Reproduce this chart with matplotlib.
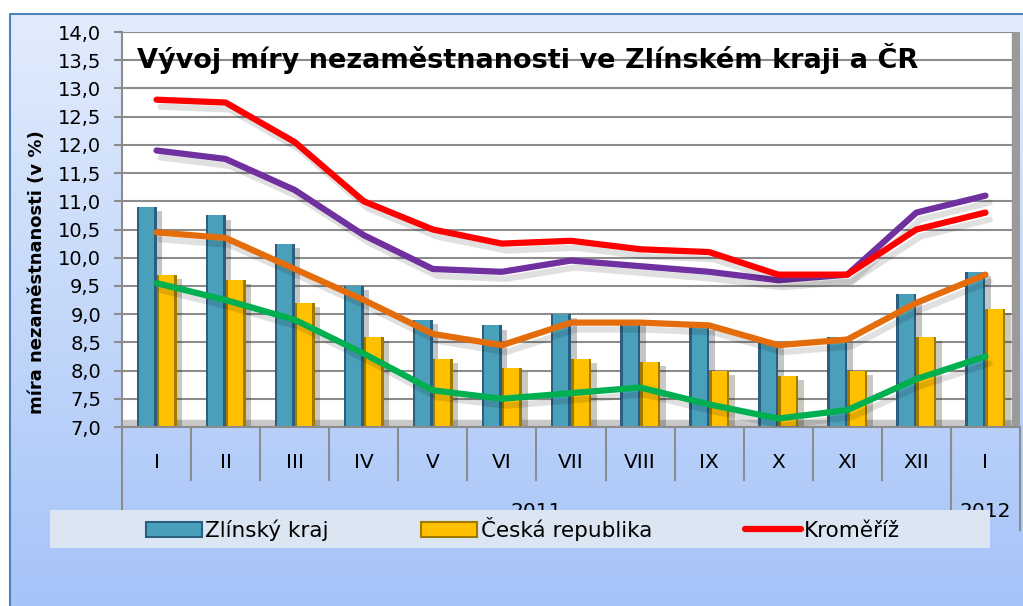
import numpy as np
import matplotlib.pyplot as plt
import matplotlib.patheffects as pe
from matplotlib.patches import Rectangle, Patch
from matplotlib.lines import Line2D
from matplotlib.colors import LinearSegmentedColormap
import matplotlib.transforms as mtransforms

plt.rcParams['font.family'] = ['DejaVu Sans']

# --- data ---
mesice = ['I', 'II', 'III', 'IV', 'V', 'VI', 'VII', 'VIII', 'IX', 'X', 'XI', 'XII', 'I']
roky = ['2011', '2012']
roky_pocet = [12, 1]
zlinsky_kraj = [10.9, 10.75, 10.25, 9.5, 8.9, 8.8, 9.0, 8.9, 8.8, 8.5, 8.6, 9.35, 9.75]
ceska_republika = [9.7, 9.6, 9.2, 8.6, 8.2, 8.05, 8.2, 8.15, 8.0, 7.9, 8.0, 8.6, 9.1]
kromeriz = [12.8, 12.75, 12.05, 11.0, 10.5, 10.25, 10.3, 10.15, 10.1, 9.7, 9.7, 10.5, 10.8]
fialova = [11.9, 11.75, 11.2, 10.4, 9.8, 9.75, 9.95, 9.85, 9.75, 9.6, 9.7, 10.8, 11.1]
oranzova = [10.45, 10.35, 9.8, 9.25, 8.65, 8.45, 8.85, 8.85, 8.8, 8.45, 8.55, 9.2, 9.7]
zelena = [9.55, 9.25, 8.9, 8.3, 7.65, 7.5, 7.6, 7.7, 7.4, 7.15, 7.3, 7.85, 8.25]

W, H = 1023, 606
fig = plt.figure(figsize=(W / 100, H / 100), dpi=100)

# background of the chart (gradient + frame)
bg = fig.add_axes([0, 0, 1, 1])
bg.set_xlim(0, W)
bg.set_ylim(H, 0)
bg.axis('off')
cmap = LinearSegmentedColormap.from_list('bg', ['#e2ecfc', '#c4d8fa', '#a6c3f8'])
grad = np.linspace(0, 1, 256).reshape(-1, 1)
bg.imshow(grad, cmap=cmap, extent=[10, W, H, 14], aspect='auto')
bg.plot([10, 10, W], [H, 14, 14], color='#4f81bd', lw=1.5)

# plot area
ax = fig.add_axes([122 / W, 1 - 427 / H, 898 / W, 395 / H])
ax.set_facecolor('white')
ax.set_xlim(-0.5, 12.5)
ax.set_ylim(7, 14)
ax.set_axisbelow(True)
ax.yaxis.grid(True, color='#8c8c8c', lw=1.5)
ax.set_yticks(np.arange(7, 14.01, 0.5))
ax.set_yticklabels([f'{v:.1f}'.replace('.', ',') for v in np.arange(7, 14.01, 0.5)])
ax.tick_params(axis='y', labelsize=14, length=6, width=1.5, color='#8c8c8c', pad=9)
ax.set_xticks([])
for s in ['top', 'right']:
    ax.spines[s].set_visible(False)
for s in ['left', 'bottom']:
    ax.spines[s].set_color('#8c8c8c')
    ax.spines[s].set_linewidth(1.5)

# 3D-ish floor and right wall
ax.axhspan(7, 7.12, color='#c8c8c8', zorder=0.5)
ax.add_patch(Rectangle((0.991, 0), 0.009, 1, transform=ax.transAxes,
                       color='#9a9a9a', zorder=0.6))

x = np.arange(len(mesice))
w = 0.29
shadow = [pe.withSimplePatchShadow(offset=(4, -3), alpha=0.25)]
ax.bar(x - w / 2, zlinsky_kraj, w, color='#2b5f80', zorder=2, path_effects=shadow)
ax.bar(x - w / 2, zlinsky_kraj, w * 0.75, color='#4aa0bb', zorder=2.1)
ax.bar(x + w / 2, ceska_republika, w, color='#a07a00', zorder=2, path_effects=shadow)
ax.bar(x + w / 2, ceska_republika, w * 0.75, color='#ffc000', zorder=2.1)

line_fx = [pe.SimpleLineShadow(offset=(3, -5), shadow_color='k', alpha=0.12), pe.Normal()]
for serie, barva in [(zelena, '#00b050'), (oranzova, '#e46c0a'),
                     (fialova, '#7030a0'), (kromeriz, '#ff0000')]:
    ax.plot(x, serie, color=barva, lw=4.5, solid_capstyle='round',
            solid_joinstyle='round', zorder=3, path_effects=line_fx)

# multi-level category axis
tr = mtransforms.blended_transform_factory(ax.transData, ax.transAxes)
for i, m in enumerate(mesice):
    ax.text(i, -0.091, m, transform=tr, ha='center', va='center', fontsize=14.5)
for b in np.arange(0.5, len(mesice) - 1, 1):
    ax.plot([b, b], [0, -0.134], transform=tr, color='#8c8c8c', lw=1.5, clip_on=False)
start = -0.5
for rok, n in zip(roky, roky_pocet):
    ax.text(start + n / 2, -0.215, rok, transform=tr, ha='center', va='center', fontsize=14.5)
    ax.plot([start, start], [0, -0.26], transform=tr, color='#8c8c8c', lw=1.5, clip_on=False)
    start += n
ax.plot([start, start], [0, -0.26], transform=tr, color='#8c8c8c', lw=1.5, clip_on=False)

# titles
fig.text(137 / W, 1 - 58 / H, 'Vývoj míry nezaměstnanosti ve Zlínském kraji a ČR',
         ha='left', va='center', fontsize=19.5, fontweight='bold')
fig.text(37 / W, 1 - 272 / H, 'míra nezaměstnanosti (v %)', rotation=90,
         ha='center', va='center', fontsize=13, fontweight='bold')

# legend (only three entries are visible in the original)
fig.patches.append(Rectangle((50 / W, 1 - 548 / H), 940 / W, 38 / H,
                             transform=fig.transFigure, facecolor='#dce6f2',
                             edgecolor='none', zorder=1))
handles = [Patch(facecolor='#4aa0bb', edgecolor='#2b5f80', lw=1.5),
           Patch(facecolor='#ffc000', edgecolor='#a07a00', lw=1.5),
           Line2D([], [], color='#ff0000', lw=4.5, solid_capstyle='round')]
fig.legend(handles, ['Zlínský kraj', 'Česká republika', 'Kroměříž'],
           loc='center', bbox_to_anchor=(523 / W, 1 - 529 / H), ncol=3,
           frameon=False, fontsize=15.5, handlelength=2.6, handletextpad=0.15,
           columnspacing=4.3)

fig.savefig('out.png', dpi=100)
